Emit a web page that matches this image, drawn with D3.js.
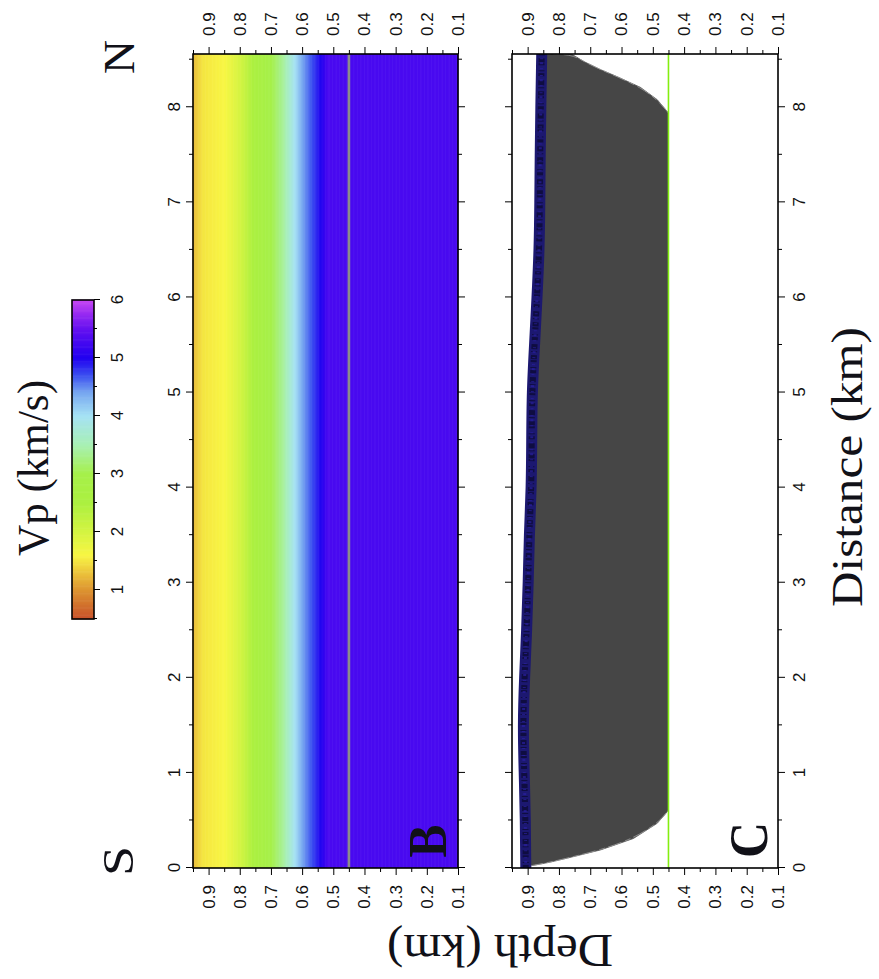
<!DOCTYPE html>
<html><head><meta charset="utf-8">
<script src="https://cdn.jsdelivr.net/npm/d3@7"></script>
<style>body{margin:0;background:#fff}</style>
</head><body>
<svg id="fig" width="879" height="979"></svg>
<script>
// Vp colour table (km/s -> colour)
const cptVp = [0.5, 1.0, 1.3, 1.6, 2.0, 2.5, 3.0, 3.5, 4.0, 4.4, 4.7, 5.0, 5.5, 6.0];
const cptColors = ["#c8502a", "#dc9430", "#ecc43c", "#f8f644", "#d4f442", "#acf040", "#a6f04a",
                   "#a8f0b4", "#a6e2f4", "#78a8f0", "#3c50f0", "#2000f0", "#6410f0", "#c644f2"];

// 1-D velocity model: depth (km) vs Vp (km/s)
const profileDepth = [0.95, 0.92, 0.85, 0.80, 0.75, 0.70, 0.66, 0.63, 0.60, 0.57, 0.54, 0.52, 0.10];
const profileVp    = [1.25, 1.50, 1.60, 2.00, 2.60, 3.00, 3.40, 3.90, 4.40, 4.70, 5.00, 5.30, 5.30];
const reflectorDepth = 0.45;

// station line along the profile (distance km, depth km)
const surfaceDist  = [0, 0.5, 1.0, 1.5, 2.0, 2.5, 3.0, 3.5, 4.0, 4.5, 5.0, 5.5, 6.0, 6.5, 7.0, 7.5, 8.0, 8.56];
const surfaceDepth = [0.906, 0.907, 0.911, 0.915, 0.910, 0.903, 0.898, 0.895, 0.888, 0.887, 0.886, 0.878, 0.870, 0.863, 0.861, 0.860, 0.858, 0.855];

// edges of the ray coverage, south end (surface -> reflector) and north end (reflector -> surface)
const southEdgeDist  = [0.02, 0.06, 0.105, 0.19, 0.31, 0.47, 0.56, 0.61];
const southEdgeDepth = [0.895, 0.83, 0.772, 0.667, 0.562, 0.486, 0.462, 0.45];
const northEdgeDist  = [7.94, 8.08, 8.21, 8.32, 8.40, 8.48, 8.56, 8.56];
const northEdgeDepth = [0.45, 0.486, 0.54, 0.613, 0.67, 0.72, 0.76, 0.85];

// axis ticks
const distTicks  = [0, 1, 2, 3, 4, 5, 6, 7, 8];
const distMinor  = [0.5, 1.5, 2.5, 3.5, 4.5, 5.5, 6.5, 7.5, 8.5];
const depthTicks = [0.9, 0.8, 0.7, 0.6, 0.5, 0.4, 0.3, 0.2, 0.1];
const depthMinor = [0.95, 0.85, 0.75, 0.65, 0.55, 0.45, 0.35, 0.25, 0.15];
const vpTicks    = [1, 2, 3, 4, 5, 6];
const vpMinor    = [0.5, 1.5, 2.5, 3.5, 4.5, 5.5];

const SANS = "'Liberation Sans', Arial, Helvetica, sans-serif";
const SERIF = "'Liberation Serif', 'Times New Roman', Times, serif";
const INK = "#111118";

const svg = d3.select("#fig");
svg.append("rect").attr("width", 879).attr("height", 979).attr("fill", "#fff");

// The figure is laid out in landscape and turned a quarter turn onto the page.
const g = svg.append("g").attr("transform", "translate(0,979) rotate(-90)");

const x = d3.scaleLinear().domain([0, 8.56]).range([111, 925]);
const yB = d3.scaleLinear().domain([0.95, 0.1]).range([193, 458]);
const yC = d3.scaleLinear().domain([0.95, 0.1]).range([512, 778]);
const vpColor = d3.scaleLinear().domain(cptVp).range(cptColors).clamp(true);
const vpOfDepth = d3.scaleLinear().domain(profileDepth).range(profileVp).clamp(true);

// ---------- panel B : velocity model ----------
const step = 0.0025;
const bands = d3.range(0.1, 0.95, step);
g.append("g").selectAll("rect").data(bands).join("rect")
  .attr("x", x(0)).attr("width", x(8.56) - x(0))
  .attr("y", d => yB(d + step) - 0.3)
  .attr("height", d => yB(d) - yB(d + step) + 0.6)
  .attr("fill", d => vpColor(vpOfDepth(d + step / 2)));

g.append("line")
  .attr("x1", x(0)).attr("x2", x(8.56))
  .attr("y1", yB(reflectorDepth)).attr("y2", yB(reflectorDepth))
  .attr("stroke", "#8c8c8c").attr("stroke-width", 2.6);

// ---------- panel C : ray coverage ----------
const cover = [];
southEdgeDist.forEach((d, i) => cover.push([d, southEdgeDepth[i]]));
northEdgeDist.forEach((d, i) => cover.push([d, northEdgeDepth[i]]));
for (let i = surfaceDist.length - 1; i >= 0; i--) cover.push([surfaceDist[i], surfaceDepth[i]]);

const clipC = g.append("clipPath").attr("id", "clipC");
clipC.append("rect").attr("x", x(0)).attr("y", yC(0.95))
  .attr("width", x(8.56) - x(0)).attr("height", yC(0.1) - yC(0.95));

const pc = g.append("g").attr("clip-path", "url(#clipC)");
pc.append("path")
  .attr("d", d3.line().x(p => x(p[0])).y(p => yC(p[1]))(cover) + "Z")
  .attr("fill", "#464646").attr("stroke", "#5a5a5a").attr("stroke-width", 0.8);

// lighter ray traces along the curved ends of the coverage
const edgeLine = d3.line().curve(d3.curveBasis).x(p => x(p[0])).y(p => yC(p[1]));
const southPts = southEdgeDist.map((d, i) => [d, southEdgeDepth[i]]);
const northPts = northEdgeDist.map((d, i) => [d, northEdgeDepth[i]]);
[southPts, northPts].forEach(pts => {
  pc.append("path").attr("d", edgeLine(pts)).attr("fill", "none")
    .attr("stroke", "#9a9a9a").attr("stroke-width", 0.8).attr("stroke-dasharray", "14 4 6 3");
});

const surf = d3.line().curve(d3.curveBasis).x(p => x(p[0])).y(p => yC(p[1]));
const surfPts = surfaceDist.map((d, i) => [d, surfaceDepth[i]]);
pc.append("path").attr("d", surf(surfPts))
  .attr("fill", "none").attr("stroke", "#1c1870").attr("stroke-width", 11);
pc.append("path").attr("d", surf(surfPts))
  .attr("fill", "none").attr("stroke", "#05051c").attr("stroke-width", 6)
  .attr("stroke-dasharray", "3 2 1 5 2 1 4 3 1 2 5 4").attr("opacity", 0.55);
pc.append("path").attr("d", surf(surfPts))
  .attr("fill", "none").attr("stroke", "#2a20a0").attr("stroke-width", 3)
  .attr("stroke-dasharray", "1 4 2 3 1 6").attr("opacity", 0.7);

pc.append("line")
  .attr("x1", x(0)).attr("x2", x(8.56))
  .attr("y1", yC(reflectorDepth)).attr("y2", yC(reflectorDepth))
  .attr("stroke", "#84ee10").attr("stroke-width", 1.6);

// ---------- frames and axes ----------
function styleAxis(sel) {
  sel.select(".domain").remove();
  sel.selectAll("line").attr("stroke", "#000").attr("stroke-width", 1);
  sel.selectAll("text").attr("font-family", SANS).attr("font-size", 17).attr("fill", "#111");
}
function addAxis(axis, tx, ty) {
  g.append("g").attr("transform", `translate(${tx},${ty})`).call(axis).call(styleAxis);
}
function panelAxes(y, top, bottom, labelTop, labelBottom) {
  // distance axes
  addAxis(d3.axisTop(x).tickValues(distTicks).tickSize(7).tickPadding(6)
    .tickFormat(labelTop ? d3.format("d") : () => ""), 0, top);
  addAxis(d3.axisTop(x).tickValues(distMinor).tickSize(4).tickFormat(() => ""), 0, top);
  addAxis(d3.axisBottom(x).tickValues(distTicks).tickSize(7).tickPadding(8)
    .tickFormat(labelBottom ? d3.format("d") : () => ""), 0, bottom);
  addAxis(d3.axisBottom(x).tickValues(distMinor).tickSize(4).tickFormat(() => ""), 0, bottom);
  // depth axes
  addAxis(d3.axisLeft(y).tickValues(depthTicks).tickSize(7).tickPadding(10)
    .tickFormat(d3.format(".1f")), x(0), 0);
  addAxis(d3.axisLeft(y).tickValues(depthMinor).tickSize(4).tickFormat(() => ""), x(0), 0);
  addAxis(d3.axisRight(y).tickValues(depthTicks).tickSize(7).tickPadding(11)
    .tickFormat(d3.format(".1f")), x(8.56), 0);
  addAxis(d3.axisRight(y).tickValues(depthMinor).tickSize(4).tickFormat(() => ""), x(8.56), 0);
  g.append("rect").attr("x", x(0)).attr("y", top)
    .attr("width", x(8.56) - x(0)).attr("height", bottom - top)
    .attr("fill", "none").attr("stroke", "#000").attr("stroke-width", 1.6);
}
panelAxes(yB, yB(0.95), yB(0.1), true, false);
panelAxes(yC, yC(0.95), yC(0.1), false, true);

// ---------- colour bar ----------
const xv = d3.scaleLinear().domain([0.5, 6]).range([360, 679]);
const vpSteps = d3.range(0.5, 6, 0.02);
g.append("g").selectAll("rect").data(vpSteps).join("rect")
  .attr("x", d => xv(d) - 0.3).attr("width", d => xv(d + 0.02) - xv(d) + 0.6)
  .attr("y", 72).attr("height", 22)
  .attr("fill", d => vpColor(d + 0.01));
g.append("rect").attr("x", xv(0.5)).attr("y", 72).attr("width", xv(6) - xv(0.5)).attr("height", 22)
  .attr("fill", "none").attr("stroke", "#000").attr("stroke-width", 1.6);
addAxis(d3.axisBottom(xv).tickValues(vpTicks).tickSize(6).tickPadding(11).tickFormat(d3.format("d")), 0, 94);
addAxis(d3.axisBottom(xv).tickValues(vpMinor).tickSize(3).tickFormat(() => ""), 0, 94);

// ---------- titles and labels ----------
function bigText(txt, tx, ty, size, len, opts = {}) {
  const t = g.append("text")
    .attr("transform", `translate(${tx},${ty})` + (opts.rot ? ` rotate(${opts.rot})` : ""))
    .attr("text-anchor", "middle")
    .attr("font-family", SERIF).attr("font-size", size)
    .attr("font-weight", opts.bold ? "bold" : "normal")
    .attr("fill", INK).text(txt);
  if (len) t.attr("textLength", len).attr("lengthAdjust", "spacingAndGlyphs");
  return t;
}
bigText("Vp (km/s)", 511, 48, 44, 176);
bigText("Distance (km)", 512, 862, 44, 280);
bigText("Depth (km)", 44, 500, 46, 226, { rot: -90 });
bigText("S", 118, 133, 44, 30);
bigText("N", 922, 134, 44, 34);
bigText("B", 138, 446, 54, 33, { bold: true });
bigText("C", 139, 767, 54, 36, { bold: true });
</script>
</body></html>
